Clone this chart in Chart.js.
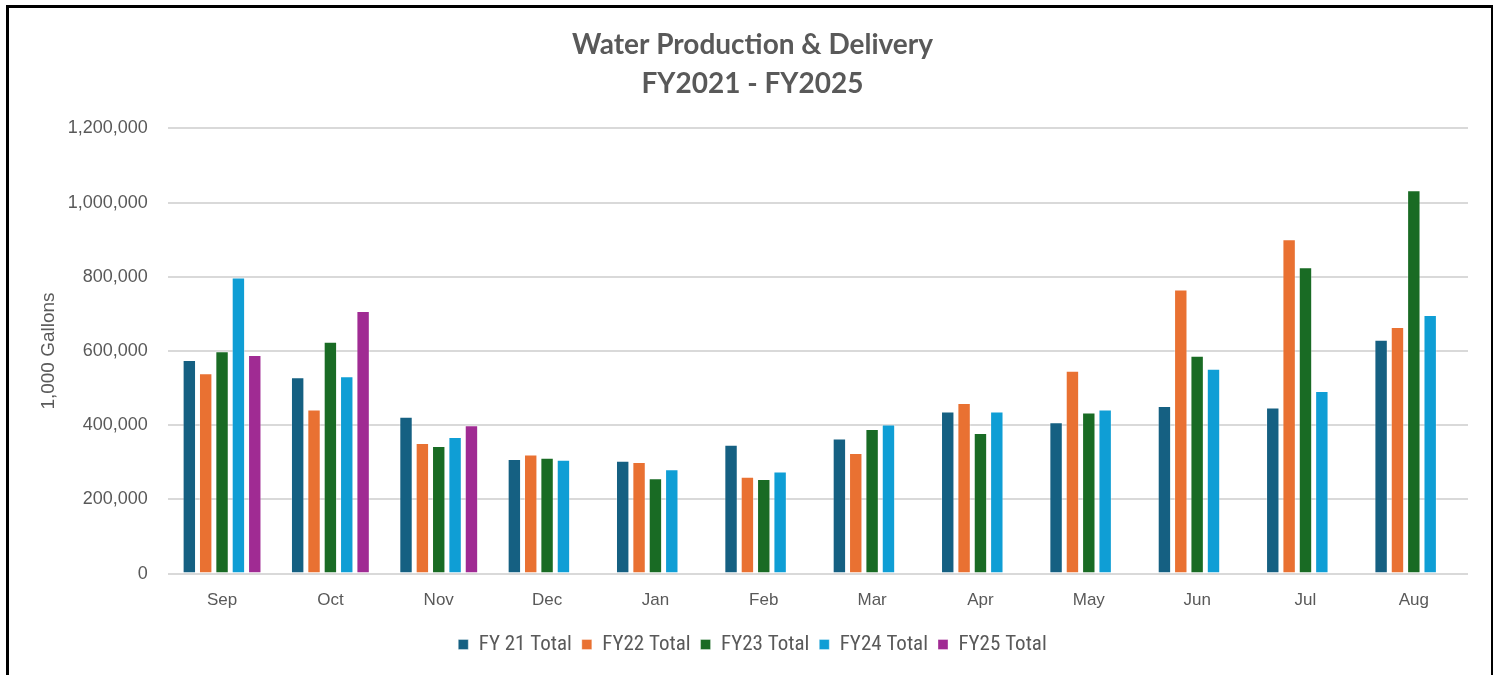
<!DOCTYPE html>
<html>
<head>
<meta charset="utf-8">
<script src="https://cdn.jsdelivr.net/npm/chart.js@4.4.1/dist/chart.umd.min.js"></script>
<style>
  html, body { margin: 0; padding: 0; background: #fff; }
  #wrap { position: relative; width: 1498px; height: 675px; overflow: hidden; }
  #frame {
    position: absolute; left: 6px; top: 5px; width: 1482px; height: 700px;
    border: 3px solid #000; border-right-width: 2px; pointer-events: none;
  }
  canvas { position: absolute; left: 0; top: 0; }
</style>
</head>
<body>
<div id="wrap">
  <canvas id="waterChart" width="1498" height="675"></canvas>
  <div id="frame"></div>
</div>
<script>
/* ── Data: monthly totals, thousands of gallons ──────── */
const months = ['Sep', 'Oct', 'Nov', 'Dec', 'Jan', 'Feb', 'Mar', 'Apr', 'May', 'Jun', 'Jul', 'Aug'];
const fy21 = [576000, 529000, 423000, 309000, 304000, 347000, 364000, 437000, 408000, 452000, 448000, 630000];
const fy22 = [540000, 442000, 352000, 321000, 301000, 261000, 325000, 460000, 547000, 766000, 901000, 665000];
const fy23 = [599000, 625000, 344000, 312000, 257000, 255000, 390000, 379000, 434000, 587000, 826000, 1033000];
const fy24 = [798000, 532000, 368000, 307000, 281000, 275000, 402000, 437000, 442000, 552000, 492000, 697000];
const fy25 = [589000, 708000, 400000, null, null, null, null, null, null, null, null, null];
const seriesNames = ['FY 21 Total', 'FY22 Total', 'FY23 Total', 'FY24 Total', 'FY25 Total'];
const yTicks = [0, 200000, 400000, 600000, 800000, 1000000, 1200000];

const COLORS = {
  fy21: '#156082',
  fy22: '#e97132',
  fy23: '#196b24',
  fy24: '#0f9ed5',
  fy25: '#a02b93',
  grid: '#d9d9d9',
  text: '#595959',
};

const seriesData = [fy21, fy22, fy23, fy24, fy25];
const seriesColors = [COLORS.fy21, COLORS.fy22, COLORS.fy23, COLORS.fy24, COLORS.fy25];

const ctx = document.getElementById('waterChart');
new Chart(ctx, {
  type: 'bar',
  data: {
    labels: months,
    datasets: seriesData.map((d, i) => ({
      label: seriesNames[i],
      data: d,
      backgroundColor: seriesColors[i],
      borderColor: 'rgba(255,255,255,0.35)',
      borderWidth: 1,
      categoryPercentage: 0.755,
      barPercentage: 0.82,
    })),
  },
  options: {
    responsive: false,
    animation: false,
    layout: { padding: { top: 25, right: 30, bottom: 10, left: 37 } },
    plugins: {
      title: {
        display: true,
        text: ['Water Production & Delivery', 'FY2021 - FY2025'],
        color: COLORS.text,
        font: { family: "Lato, 'Liberation Sans', sans-serif", size: 28, weight: 'bold', lineHeight: 1.4 },
        padding: { top: 0, bottom: 25 },
      },
      legend: {
        position: 'bottom',
        labels: {
          color: COLORS.text,
          boxWidth: 10,
          boxHeight: 10,
          padding: 10,
          font: { family: "'Liberation Sans Narrow', 'Roboto Condensed', Roboto, sans-serif", size: 21 },
        },
      },
      tooltip: { enabled: false },
    },
    scales: {
      x: {
        grid: { display: false },
        border: { display: false },
        afterFit: axis => { axis.height += 4; },
        ticks: { color: COLORS.text, padding: 9, font: { family: "'Liberation Sans', Arial, sans-serif", size: 17 } },
      },
      y: {
        min: 0,
        max: yTicks[yTicks.length - 1],
        afterBuildTicks: axis => { axis.ticks = yTicks.map(v => ({ value: v })); },
        grid: { color: COLORS.grid, lineWidth: 2, drawTicks: false },
        border: { display: false },
        ticks: {
          color: COLORS.text,
          padding: 20,
          font: { family: "'Liberation Sans', Arial, sans-serif", size: 18 },
          callback: v => v.toLocaleString('en-US'),
        },
        title: {
          display: true,
          text: '1,000 Gallons',
          color: COLORS.text,
          padding: { top: 0, bottom: -12 },
          font: { family: "'Liberation Sans', Arial, sans-serif", size: 19 },
        },
      },
    },
  },
});
</script>
</body>
</html>
